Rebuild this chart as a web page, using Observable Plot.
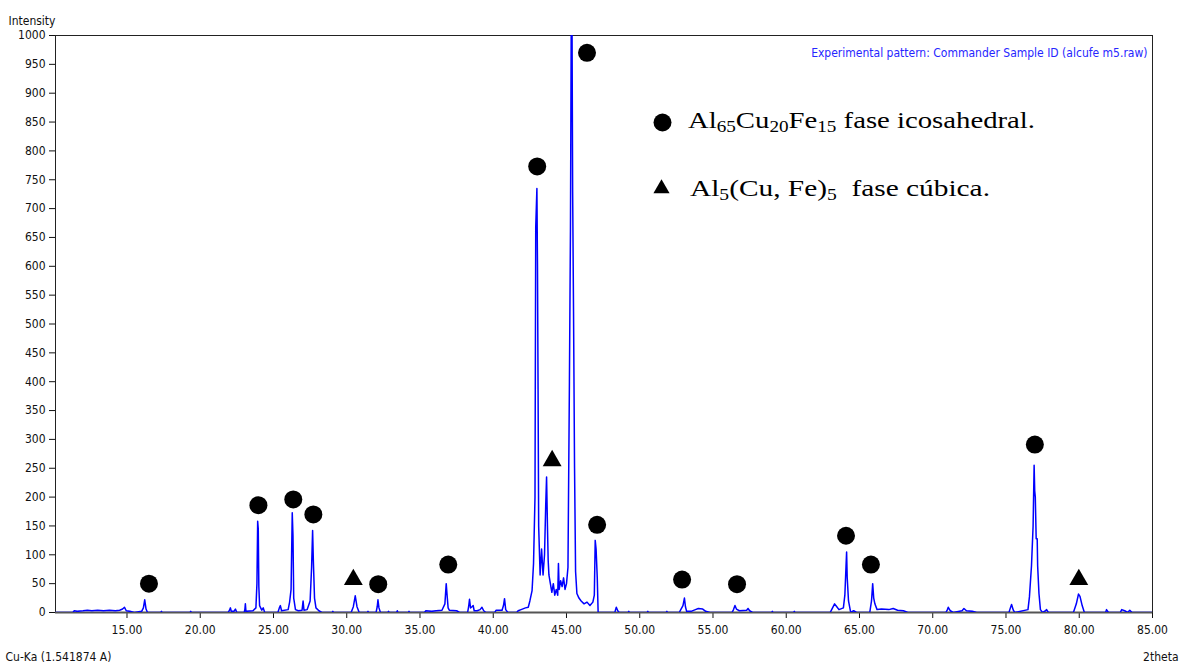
<!DOCTYPE html>
<html>
<head>
<meta charset="utf-8">
<script src="https://cdn.jsdelivr.net/npm/d3@7"></script>
<script src="https://cdn.jsdelivr.net/npm/@observablehq/plot@0.6"></script>
<style>
  html, body { margin: 0; padding: 0; background: #ffffff; }
  #chart svg { display: block; }
</style>
</head>
<body>
<div id="chart"></div>
<script>
// ---- data ----
const twoTheta = [
  10.12, 11.3, 11.4, 11.6, 12.0, 12.3, 12.6, 13.0, 13.4, 13.8, 14.2, 14.5, 14.7, 14.83, 14.95, 15.2, 15.5,
  16.0, 16.12, 16.21, 16.3, 16.4, 17.3, 17.35, 17.4, 19.3, 19.35, 19.4,
  21.9, 22.0, 22.06, 22.12, 22.3, 22.4, 22.5, 23.0, 23.05, 23.08, 23.12, 23.6,
  23.8, 23.87, 23.92, 23.96, 24.0, 24.05, 24.2, 24.3, 24.4,
  25.3, 25.4, 25.47, 25.55, 26.0, 26.1, 26.2, 26.28, 26.33, 26.38, 26.5, 26.7,
  26.95, 27.02, 27.08, 27.3, 27.5, 27.6, 27.67, 27.72, 27.8, 27.9, 28.1, 28.3,
  29.0, 29.05, 29.1, 30.3, 30.45, 30.58, 30.7, 30.85, 31.4, 31.45, 31.5,
  32.0, 32.08, 32.13, 32.2, 32.3, 32.8, 32.85, 32.9, 33.4, 33.45, 33.5, 34.2, 34.25, 34.3,
  35.3, 35.4, 35.8, 36.1, 36.5, 36.7, 36.79, 36.85, 36.92, 37.0, 37.5, 37.7,
  38.25, 38.32, 38.38, 38.45, 38.55, 38.63, 38.7, 38.9, 39.1, 39.23, 39.35, 39.5,
  40.1, 40.2, 40.6, 40.7, 40.77, 40.85, 41.0, 41.6, 41.7, 41.9, 42.2, 42.39,
  42.5, 42.65, 42.75, 42.85, 42.9, 42.98, 43.02, 43.06, 43.1, 43.2, 43.3, 43.4, 43.5,
  43.58, 43.64, 43.7, 43.75, 43.8, 43.9, 44.0, 44.1, 44.2, 44.3, 44.4, 44.45, 44.5,
  44.6, 44.7, 44.8, 44.9, 45.0, 45.1, 45.2, 45.27, 45.32, 45.38, 45.42, 45.48, 45.55,
  45.62, 45.71, 45.85, 46.0, 46.2, 46.4, 46.6, 46.8, 46.9, 46.96, 47.02, 47.1, 47.16,
  47.5, 48.3, 48.35, 48.4, 48.5, 48.6, 49.2, 49.25, 49.3, 50.5, 50.55, 50.6, 51.8, 51.85, 51.9,
  52.7, 52.8, 52.95, 53.05, 53.12, 53.2, 53.5, 53.8, 54.0, 54.3, 54.5, 54.8,
  56.3, 56.4, 56.5, 56.6, 56.8, 57.3, 57.39, 57.5, 57.7, 59.0, 59.05, 59.1, 60.5, 60.55, 60.6,
  63.0, 63.1, 63.3, 63.45, 63.6, 63.9, 64.0, 64.08, 64.12, 64.16, 64.25, 64.4, 64.6, 64.8,
  65.7, 65.82, 65.9, 65.97, 66.05, 66.2, 66.5, 67.0, 67.3, 67.6, 68.0, 68.3,
  70.9, 71.0, 71.06, 71.2, 71.4, 72.0, 72.13, 72.3, 72.7, 73.0,
  75.2, 75.3, 75.38, 75.5, 75.6, 76.5, 76.6, 76.74, 76.85, 76.92, 76.96, 77.0, 77.06,
  77.13, 77.16, 77.25, 77.35, 77.5, 77.7, 77.77, 77.9,
  79.6, 79.8, 79.95, 80.05, 80.2, 80.35, 81.8, 81.86, 82.0, 82.8, 82.9, 83.1, 83.3, 83.45, 83.6, 85.0
];
const intensity = [
  0, 0, 3, 2, 3, 4, 3, 4, 3, 4, 3, 4, 6, 9, 3, 2, 0,
  2, 8, 22, 6, 0, 0, 2, 0, 0, 2, 0,
  0, 4, 8, 2, 2, 6, 0, 0, 6, 15, 2, 3,
  8, 50, 158, 145, 45, 12, 4, 8, 0,
  0, 8, 12, 3, 5, 18, 40, 173, 133, 25, 5, 3,
  4, 20, 4, 5, 20, 78, 142, 90, 25, 8, 3, 0,
  0, 2, 0, 0, 10, 29, 10, 0, 0, 2, 0,
  0, 10, 22, 8, 0, 0, 2, 0, 0, 3, 0, 0, 2, 0,
  0, 3, 2, 3, 4, 15, 50, 30, 8, 4, 3, 0,
  0, 10, 23, 8, 10, 12, 3, 3, 5, 9, 3, 0,
  0, 4, 4, 12, 24, 5, 0, 0, 3, 5, 8, 9,
  20, 38, 85, 200, 668, 735, 600, 386, 150, 65, 110, 65, 100,
  184, 235, 150, 90, 65, 50, 35, 50, 30, 40, 30, 85, 40,
  55, 45, 60, 40, 50, 78, 400, 662, 1000, 1000, 728, 522, 250,
  71, 33, 25, 20, 15, 18, 12, 18, 30, 125, 110, 60, 0,
  0, 0, 5, 9, 3, 0, 0, 2, 0, 0, 2, 0, 0, 2, 0,
  0, 5, 12, 25, 10, 2, 2, 5, 7, 6, 2, 0,
  0, 5, 12, 6, 3, 4, 7, 3, 0, 0, 2, 0, 0, 2, 0,
  0, 5, 15, 10, 5, 8, 30, 80, 105, 61, 20, 0, 3, 0,
  0, 20, 50, 25, 15, 5, 6, 5, 7, 4, 3, 0,
  0, 5, 9, 3, 0, 3, 7, 3, 2, 0,
  0, 8, 14, 4, 0, 5, 27, 81, 150, 255, 211, 200, 128,
  128, 81, 33, 5, 0, 3, 5, 0,
  0, 15, 32, 28, 12, 0, 0, 5, 0, 0, 5, 3, 0, 4, 0, 0
];

// phase markers (position of the symbol above each peak)
const icoX = [16.5, 23.97, 26.35, 27.72, 32.15, 36.93, 43.0, 46.4, 47.09, 52.89, 56.64, 64.08, 65.78, 76.97];
const icoY = [50, 186, 196, 170, 49, 83, 773, 970, 152, 57, 49, 133, 83, 291];
const cubX = [30.45, 44.02, 79.97];
const cubY = [57, 263, 57];

const xTicks = [15, 20, 25, 30, 35, 40, 45, 50, 55, 60, 65, 70, 75, 80, 85];
const yTicks = d3.range(0, 1001, 50);

const headerLabel = "Intensity";
const sourceLabel = "Cu-Ka (1.541874 A)";
const xLabel = "2theta";
const patternLabel = "Experimental pattern: Commander Sample ID (alcufe m5.raw)";

const pattern = twoTheta.map((t, i) => ({t, I: intensity[i]}));
const ico = icoX.map((x, i) => ({x, y: icoY[i]}));
const cub = cubX.map((x, i) => ({x, y: cubY[i]}));

const sansFont = "'DejaVu Sans Condensed', 'DejaVu Sans', sans-serif";

const plot = Plot.plot({
  width: 1183,
  height: 669,
  marginLeft: 55,
  marginRight: 31,
  marginTop: 35,
  marginBottom: 57,
  style: {fontFamily: sansFont, fontSize: "12px", color: "#111", background: "#fff"},
  x: {domain: [10.12, 85], ticks: xTicks, tickFormat: d => d.toFixed(2), tickSize: 6, tickPadding: 7, label: null},
  y: {domain: [0, 1000], ticks: yTicks, tickFormat: d => String(d), tickSize: 6, tickPadding: 4, label: null},
  marks: [
    Plot.frame({stroke: "#222", strokeWidth: 1}),
    Plot.ruleY([0], {stroke: "#555", strokeWidth: 2}),
    Plot.line(pattern, {x: "t", y: "I", stroke: "#0000ff", strokeWidth: 1.5, clip: true}),
    Plot.dot(ico, {x: "x", y: "y", r: 9, fill: "#000", stroke: "none"}),
    Plot.dot(cub, {x: "x", y: "y", r: 7, symbol: "triangle", fill: "#000", stroke: "none"}),
    // legend markers
    Plot.dot([0], {frameAnchor: "top-left", dx: 607, dy: 87, r: 9, fill: "#000", stroke: "none"}),
    Plot.dot([0], {frameAnchor: "top-left", dx: 606, dy: 153, r: 6, symbol: "triangle", fill: "#000", stroke: "none"}),
    // labels around the frame
    Plot.text([headerLabel], {frameAnchor: "top-left", dx: -47, dy: -19, textAnchor: "start", fill: "#111"}),
    Plot.text([sourceLabel], {frameAnchor: "bottom-left", dx: -50, dy: 48, textAnchor: "start", fill: "#111"}),
    Plot.text([xLabel], {frameAnchor: "bottom-right", dx: 26, dy: 48, textAnchor: "end", fill: "#111"}),
    Plot.text([patternLabel], {frameAnchor: "top-right", dx: -5, dy: 13, textAnchor: "end", fill: "#2626ff"})
  ]
});

// legend text with subscripts
const svg = d3.select(plot);
const legendLines = [
  {y: 128, x: 688, len: 347, parts: [["Al"], ["65", 1], ["Cu"], ["20", 1], ["Fe"], ["15", 1], [" fase icosahedral."]]},
  {y: 196, x: 690, len: 300, parts: [["Al"], ["5", 1], ["(Cu, Fe)"], ["5", 1], ["  fase cúbica."]]}
];
for (const line of legendLines) {
  const t = svg.append("text")
    .attr("x", line.x).attr("y", line.y)
    .attr("text-anchor", "start")
    .attr("textLength", line.len).attr("lengthAdjust", "spacingAndGlyphs")
    .style("white-space", "pre")
    .attr("font-family", "'Liberation Serif', 'Times New Roman', serif")
    .attr("font-size", 24).attr("fill", "#000");
  let shifted = false;
  for (const [s, sub] of line.parts) {
    const ts = t.append("tspan").text(s);
    if (sub && !shifted) { ts.attr("dy", 4).attr("font-size", 16); shifted = true; }
    else if (sub) { ts.attr("font-size", 16); }
    else if (shifted) { ts.attr("dy", -4); shifted = false; }
  }
}

document.getElementById("chart").appendChild(plot);
</script>
</body>
</html>
